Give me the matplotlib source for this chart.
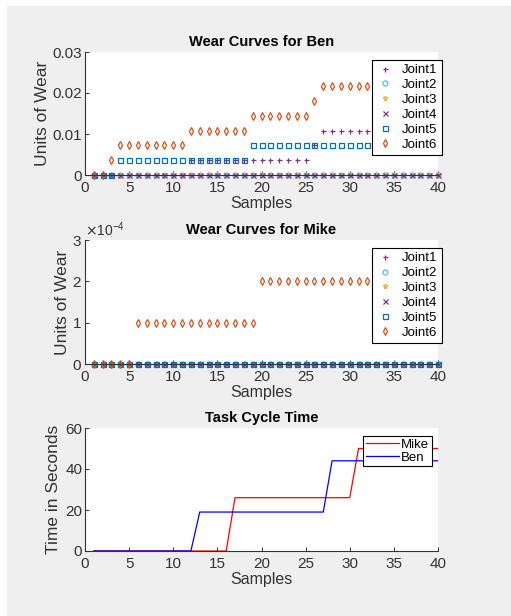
import numpy as np
import matplotlib.pyplot as plt
from matplotlib.patches import Rectangle
from matplotlib.ticker import ScalarFormatter

plt.rcParams['font.family'] = ['Liberation Sans', 'DejaVu Sans']

samples = np.arange(1, 41)

# Ben: wear per joint (units of wear)
ben_joint1 = [0.0] * 11 + [0.0036] * 14 + [0.0072] + [0.0108] * 14
ben_joint2 = [0.0] * 40
ben_joint3 = [0.0] * 40
ben_joint4 = [0.0] * 40
ben_joint5 = [0.0] * 3 + [0.0036] * 15 + [0.0072] * 22
ben_joint6 = ([0.0] * 2 + [0.0036] + [0.0072] * 8 + [0.0108] * 7
              + [0.0144] * 7 + [0.018] + [0.0216] * 14)

# Mike: wear per joint
mike_joint1 = [0.0] * 40
mike_joint2 = [0.0] * 40
mike_joint3 = [0.0] * 40
mike_joint4 = [0.0] * 40
mike_joint5 = [0.0] * 40
mike_joint6 = [0.0] * 5 + [1e-4] * 14 + [2e-4] * 21

# task cycle time (s)
mike_time = [0] * 16 + [26] * 14 + [50] * 10
ben_time = [0] * 12 + [19] * 15 + [44] * 13

joint_names = ['Joint1', 'Joint2', 'Joint3', 'Joint4', 'Joint5', 'Joint6']
markers = ['+', 'o', '*', 'x', 's', 'd']
colors = [(0.494, 0.184, 0.556), (0.301, 0.745, 0.933), (0.929, 0.694, 0.125),
          (0.494, 0.184, 0.556), (0.0, 0.447, 0.741), (0.85, 0.325, 0.098)]
grey = (0.2, 0.2, 0.2)

fig = plt.figure(figsize=(5.11, 6.16), dpi=100, facecolor='white')
fig.patches.append(Rectangle((7 / 511, 0), 1, 1 - 6 / 616, transform=fig.transFigure,
                             facecolor='#efefef', edgecolor='none', zorder=-10))

W, H = 511, 616


def make_axes(top_px, bottom_px):
    ax = fig.add_axes([85 / W, 1 - bottom_px / H, 353 / W, (bottom_px - top_px) / H])
    ax.set_facecolor('white')
    for s in ['top', 'right']:
        ax.spines[s].set_visible(False)
    for s in ['left', 'bottom']:
        ax.spines[s].set_color(grey)
        ax.spines[s].set_linewidth(0.8)
    ax.tick_params(direction='in', length=3, width=0.7, colors=grey, labelsize=11)
    ax.tick_params(axis='x', pad=4)
    ax.tick_params(axis='y', pad=2)
    ax.set_xlim(0, 40)
    ax.set_xticks(range(0, 41, 5))
    ax.set_xlabel('Samples', fontsize=11.5, color=grey, labelpad=1)
    return ax


def wear_plot(ax, series):
    for vals, name, m, c in zip(series, joint_names, markers, colors):
        ax.plot(samples, vals, linestyle='none', marker=m, markersize=3.6,
                markerfacecolor='none', markeredgecolor=c, markeredgewidth=0.9,
                label=name, clip_on=False)
    ax.set_ylabel('Units of Wear', fontsize=12.5, color=grey, labelpad=2)


def joint_legend(ax, right, top):
    leg = ax.legend(loc='upper right', bbox_to_anchor=(right, top), fontsize=9.5,
                    frameon=True, fancybox=False, edgecolor='black', framealpha=1,
                    handlelength=1.4, handletextpad=0.6, labelspacing=0.2,
                    borderpad=0.3, borderaxespad=0)
    leg.get_frame().set_linewidth(0.8)
    return leg


# Ben
ax1 = make_axes(52, 175)
wear_plot(ax1, [ben_joint1, ben_joint2, ben_joint3, ben_joint4, ben_joint5, ben_joint6])
ax1.set_ylim(0, 0.03)
ax1.set_yticks([0, 0.01, 0.02, 0.03])
ax1.set_yticklabels(['0', '0.01', '0.02', '0.03'])
ax1.set_title('Wear Curves for Ben', fontsize=10.5, fontweight='bold', pad=4)
joint_legend(ax1, 1.01, 0.935)

# Mike
ax2 = make_axes(240, 364)
wear_plot(ax2, [mike_joint1, mike_joint2, mike_joint3, mike_joint4, mike_joint5, mike_joint6])
ax2.set_ylim(0, 3e-4)
ax2.set_yticks([0, 1e-4, 2e-4, 3e-4])
fmt = ScalarFormatter(useMathText=True)
fmt.set_powerlimits((0, 0))
ax2.yaxis.set_major_formatter(fmt)
ax2.yaxis.get_offset_text().set_fontsize(10)
ax2.yaxis.get_offset_text().set_color(grey)
ax2.set_title('Wear Curves for Mike', fontsize=10.5, fontweight='bold', pad=4)
joint_legend(ax2, 1.01, 0.935)

# Task cycle
ax3 = make_axes(428, 551)
ax3.plot(samples, mike_time, color='red', linewidth=0.9, label='Mike')
ax3.plot(samples, ben_time, color='blue', linewidth=0.9, label='Ben')
ax3.set_ylim(0, 60)
ax3.set_yticks([0, 20, 40, 60])
ax3.set_ylabel('Time in Seconds', fontsize=12.5, color=grey, labelpad=3)
ax3.set_title('Task Cycle Time', fontsize=10.5, fontweight='bold', pad=4)
leg = ax3.legend(loc='upper right', bbox_to_anchor=(0.983, 0.935), fontsize=9.5,
                 frameon=True, fancybox=False, edgecolor='black', framealpha=1,
                 handlelength=2.5, handletextpad=0.2, labelspacing=0.05,
                 borderpad=0.2, borderaxespad=0)
leg.get_frame().set_linewidth(0.8)

fig.savefig('out.png', dpi=100, facecolor=fig.get_facecolor())
